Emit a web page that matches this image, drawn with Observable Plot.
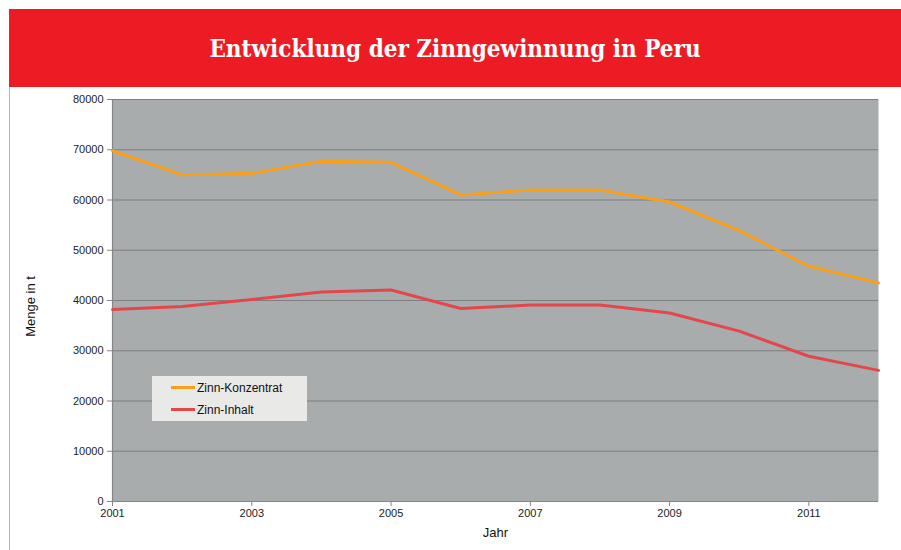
<!DOCTYPE html>
<html>
<head>
<meta charset="utf-8">
<script src="https://cdn.jsdelivr.net/npm/d3@7"></script>
<script src="https://cdn.jsdelivr.net/npm/@observablehq/plot@0.6"></script>
<style>
  html, body { margin: 0; padding: 0; background: #fff; }
  #page { position: relative; width: 901px; height: 550px; overflow: hidden; font-family: "Liberation Sans", Arial, sans-serif; }
  #banner { position: absolute; left: 9px; top: 9px; width: 892px; height: 78px; background: #ed1c24;
    color: #fff; font-family: "DejaVu Serif Condensed", "DejaVu Serif", serif; font-stretch: condensed; font-weight: bold;
    font-size: 24px; display: flex; align-items: center; justify-content: center; }
  #panelBorder { position: absolute; left: 9px; top: 87px; width: 0; height: 463px; border-left: 1.5px solid #b8b8b8; }
  #chart { position: absolute; left: 0; top: 87px; }
  #legend { position: absolute; left: 152px; top: 376px; width: 155px; height: 45px; background: #e9e9e7; font-size: 12px; color: #111; }
  .item { position: absolute; left: 19px; display: flex; align-items: center; }
  .sw { width: 24px; height: 3px; margin-right: 2px; }
</style>
</head>
<body>
<div id="page">
  <div id="banner">Entwicklung der Zinngewinnung in Peru</div>
  <div id="panelBorder"></div>
  <div id="chart"></div>
  <div id="legend"></div>
</div>
<script>
const years = [2001, 2002, 2003, 2004, 2005, 2006, 2007, 2008, 2009, 2010, 2011, 2012];
const konzentrat = [69800, 65000, 65300, 67700, 67500, 61000, 62000, 62000, 59600, 53900, 46800, 43500];
const inhalt = [38200, 38800, 40200, 41700, 42100, 38400, 39100, 39100, 37500, 33900, 28900, 26100];
const seriesNames = ["Zinn-Konzentrat", "Zinn-Inhalt"];
const seriesColors = ["#f8a01c", "#e3474b"];
const yTicks = [0, 10000, 20000, 30000, 40000, 50000, 60000, 70000, 80000];
const xTicks = [2001, 2003, 2005, 2007, 2009, 2011];
const yLabel = "Menge in t";
const xLabel = "Jahr";

const data = [];
years.forEach((y, i) => {
  data.push({year: y, value: konzentrat[i], series: seriesNames[0]});
  data.push({year: y, value: inhalt[i], series: seriesNames[1]});
});

const chart = Plot.plot({
  width: 901,
  height: 463,
  marginLeft: 112,
  marginRight: 23,
  marginTop: 12,
  marginBottom: 49,
  style: {fontFamily: "'Liberation Sans', Arial, sans-serif", fontSize: "11px", color: "#222", background: "transparent"},
  x: {domain: [2001, 2012], axis: null},
  y: {domain: [0, 80000], axis: null},
  color: {domain: seriesNames, range: seriesColors},
  marks: [
    Plot.frame({fill: "#a9acad", stroke: null}),
    Plot.gridY(yTicks, {stroke: "#7c7e80", strokeOpacity: 1, strokeWidth: 1.2}),
    Plot.ruleX([2001], {stroke: "#858585", strokeWidth: 1.2}),
    Plot.ruleY([0], {stroke: "#858585", strokeWidth: 1.2}),
    Plot.axisY(yTicks, {tickSize: 5, tickPadding: 4, stroke: "#858585", tickFormat: d3.format("d"), label: null, fill: "#222"}),
    Plot.axisX(xTicks, {tickSize: 5, tickPadding: 3, stroke: "#858585", tickFormat: d3.format("d"), label: null, fill: "#222"}),
    Plot.line(data, {x: "year", y: "value", z: "series", stroke: "series", strokeWidth: 3, strokeLinejoin: "round"}),
    Plot.text([yLabel], {frameAnchor: "left", textAnchor: "middle", dx: -82, dy: 6, rotate: -90, fontSize: 13, fill: "#111"}),
    Plot.text([xLabel], {frameAnchor: "bottom", dy: 35, fontSize: 13, fill: "#111"})
  ]
});
document.getElementById("chart").appendChild(chart);

const legend = document.getElementById("legend");
seriesNames.forEach((name, i) => {
  const item = document.createElement("div");
  item.className = "item";
  item.style.top = (i === 0 ? 3 : 25) + "px";
  item.style.height = "17px";
  const sw = document.createElement("div");
  sw.className = "sw";
  sw.style.background = seriesColors[i];
  const t = document.createElement("span");
  t.textContent = name;
  item.appendChild(sw);
  item.appendChild(t);
  legend.appendChild(item);
});
</script>
</body>
</html>
